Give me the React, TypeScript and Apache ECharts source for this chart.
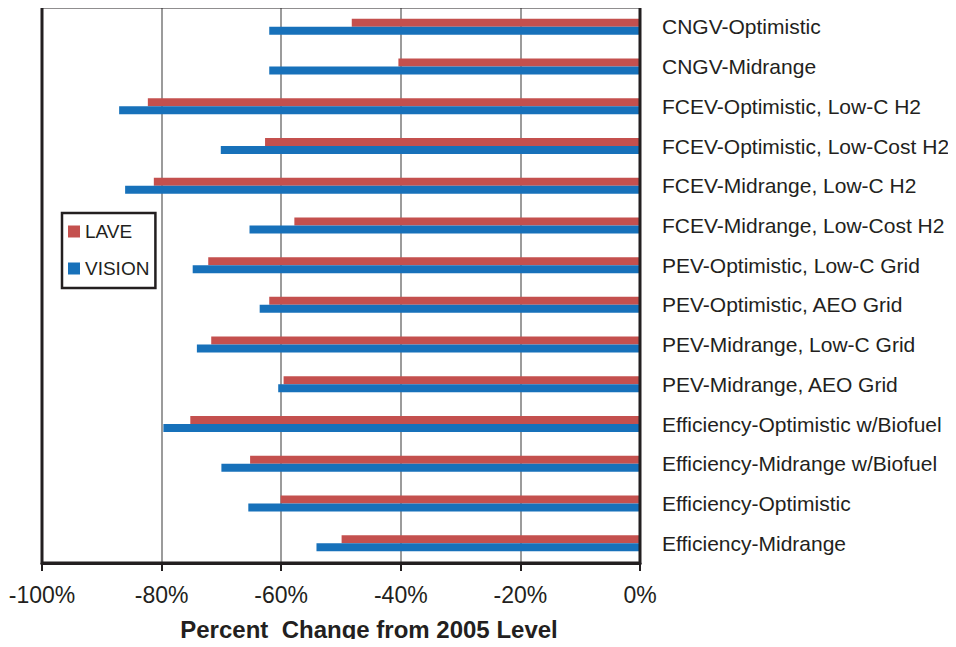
import React, { useEffect, useRef } from "react";
import * as echarts from "echarts";

const categories = [
  "CNGV-Optimistic",
  "CNGV-Midrange",
  "FCEV-Optimistic, Low-C H2",
  "FCEV-Optimistic, Low-Cost H2",
  "FCEV-Midrange, Low-C H2",
  "FCEV-Midrange, Low-Cost H2",
  "PEV-Optimistic, Low-C Grid",
  "PEV-Optimistic, AEO Grid",
  "PEV-Midrange, Low-C Grid",
  "PEV-Midrange, AEO Grid",
  "Efficiency-Optimistic w/Biofuel",
  "Efficiency-Midrange w/Biofuel",
  "Efficiency-Optimistic",
  "Efficiency-Midrange",
];

const laveValues = [-48.2, -40.4, -82.3, -62.7, -81.3, -57.8, -72.2, -62.0, -71.7, -59.6, -75.2, -65.2, -60.1, -49.9];
const visionValues = [-62.0, -62.0, -87.1, -70.1, -86.1, -65.3, -74.8, -63.6, -74.1, -60.5, -79.7, -70.0, -65.5, -54.1];

const xTicks = { min: -100, max: 0, interval: 20 };

const DARK = "#231F20";
const FONT = "'Liberation Sans', Arial, Helvetica, sans-serif";

export default function App() {
  const ref = useRef<HTMLDivElement>(null);
  useEffect(() => {
    if (!ref.current) return;
    const chart = echarts.init(ref.current, null, { renderer: "svg" });
    chart.setOption({
      animation: false,
      backgroundColor: "#ffffff",
      textStyle: { fontFamily: FONT },
      grid: {
        left: 42,
        right: 316,
        top: 7,
        bottom: 84,
        show: false,
      },
      graphic: [
        {
          type: "rect",
          z: 100,
          silent: true,
          shape: { x: 42, y: 7, width: 598, height: 556 },
          style: { fill: "none", stroke: DARK, lineWidth: 3 },
        },
      ],
      legend: {
        data: ["LAVE", "VISION"],
        orient: "vertical",
        left: 62,
        top: 213,
        icon: "rect",
        itemWidth: 12,
        itemHeight: 12,
        itemGap: 18,
        padding: [9, 6, 10, 6],
        borderColor: DARK,
        borderWidth: 2.5,
        backgroundColor: "#ffffff",
        textStyle: { fontSize: 19, color: DARK, fontFamily: FONT },
      },
      xAxis: {
        type: "value",
        min: xTicks.min,
        max: xTicks.max,
        interval: xTicks.interval,
        name: "Percent  Change from 2005 Level",
        nameLocation: "middle",
        nameGap: 54,
        nameTextStyle: {
          fontSize: 24,
          fontWeight: "bold",
          color: DARK,
          fontFamily: FONT,
          padding: [0, 0, 0, 56],
        },
        axisLine: { show: true, lineStyle: { color: DARK, width: 3 } },
        axisTick: { show: true, length: 8, lineStyle: { color: DARK, width: 2 } },
        axisLabel: { formatter: "{value}%", fontSize: 23, color: DARK, margin: 20, fontFamily: FONT },
        splitLine: { show: true, lineStyle: { color: "#9b9b9b", width: 2 } },
      },
      yAxis: {
        type: "category",
        inverse: true,
        position: "right",
        data: categories,
        axisLine: { show: false },
        axisTick: { show: false },
        splitLine: { show: false },
        axisLabel: { align: "left", margin: 22, fontSize: 21, color: DARK, fontFamily: FONT },
      },
      series: [
        {
          name: "LAVE",
          type: "bar",
          data: laveValues,
          barWidth: 8,
          barGap: "0%",
          itemStyle: { color: "#C4504E" },
        },
        {
          name: "VISION",
          type: "bar",
          data: visionValues,
          barWidth: 8,
          barGap: "0%",
          itemStyle: { color: "#1771BA" },
        },
      ],
    });
    return () => chart.dispose();
  }, []);
  return <div ref={ref} style={{ width: 956, height: 647, margin: -8 }} />;
}
